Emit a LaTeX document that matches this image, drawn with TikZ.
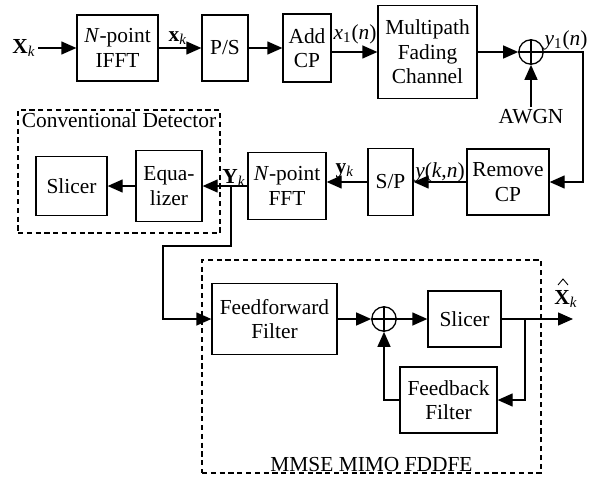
\documentclass[tikz,border=0pt]{standalone}
\usepackage{fontspec}
\setmainfont{Liberation Serif}
\usetikzlibrary{arrows.meta,positioning,calc}

\begin{document}
\begin{tikzpicture}[
  x=0.5pt,y=-0.5pt,
  line width=0.65pt,
  font=\fontsize{10.7}{12.3}\selectfont,
  >={Triangle[length=7.5pt,width=6.5pt]},
  block/.style={draw,rectangle,align=center,inner sep=1pt},
  adder/.style={draw,circle,minimum size=12.2pt,inner sep=0pt},
  group/.style={draw,dash pattern=on 2.6pt off 1.8pt,inner sep=0pt},
  lbl/.style={inner sep=1pt}
]
\useasboundingbox (0,0) rectangle (592,476);

\def\ytop{48}
\def\ychan{52}
\def\yrx{182}
\def\ydet{186}
\def\yeq{319}

% transmitter and channel
\node[lbl] (xk) at (24,\ytop) {\textbf{X}\textsubscript{\textit{k}}};
\node[block,minimum width=40.5pt,minimum height=33pt] (ifft) at (117.5,\ytop) {\textit{N}-point\\IFFT};
\node[block,minimum width=23pt,minimum height=33pt] (ps) at (225,\ytop) {P/S};
\node[block,minimum width=24pt,minimum height=34pt] (addcp) at (307,\ytop) {Add\\CP};
\node[block,minimum width=49.5pt,minimum height=46.5pt] (chan) at (427.5,\ychan) {Multipath\\Fading\\Channel};
\node[adder] (sum1) at (531,\ychan) {};
\node[lbl] (awgn) at (531,117) {AWGN};
\coordinate (c1) at (583,\ychan);

% receiver
\node[block,minimum width=41pt,minimum height=33pt] (rmcp) at (508,\yrx) {Remove\\CP};
\node[block,minimum width=22.5pt,minimum height=33.5pt] (sp) at (390.5,\yrx) {S/P};
\node[block,minimum width=39pt,minimum height=33.5pt] (fft) at (287,\ydet) {\textit{N}-point\\FFT};
\node[block,minimum width=33pt,minimum height=35.5pt] (eq) at (169,\ydet) {Equa-\\lizer};
\node[block,minimum width=35.5pt,minimum height=29.5pt] (slc1) at (71.5,\ydet) {Slicer};
\node[group,minimum width=101pt,minimum height=61.5pt] (conv) at (119,171.5) {};
\node[lbl,below=0.5pt of conv.north] (convlbl) {Conventional Detector};

% MMSE MIMO FDDFE
\node[block,minimum width=62.5pt,minimum height=35.5pt] (ff) at (274.5,\yeq) {Feedforward\\Filter};
\node[adder] (sum2) at (384,\yeq) {};
\node[block,minimum width=36.5pt,minimum height=28pt] (slc2) at (464.5,\yeq) {Slicer};
\node[block,minimum width=48.5pt,minimum height=33pt] (fb) at (448.5,400) {Feedback\\Filter};
\node[group,minimum width=169.5pt,minimum height=106.5pt] (mmse) at (371.5,366.5) {};
\node[lbl,anchor=base,yshift=1pt] (mmselbl) at (mmse.south) {MMSE MIMO FDDFE};
\coordinate (xout) at (573,\yeq);
\coordinate (j2) at (525,\yeq);
\node[lbl] (xhat) at (566,299) {\textbf{X}\textsubscript{\textit{k}}};
\draw[line width=0.45pt] (558,285) -- (563,279) -- (568,285); % hat

% branch to the FDDFE
\coordinate (j1) at (231,\ydet);
\coordinate (b1) at (163,246);

% signal labels
\node[lbl] (xklbl) at (178,38) {\textbf{x}\textsubscript{\textit{k}}};
\node[lbl] (x1lbl) at (355,34) {\textit{x}\textsubscript{1}(\textit{n})};
\node[lbl] (y1lbl) at (566,40) {\textit{y}\textsubscript{1}(\textit{n})};
\node[lbl] (yknlbl) at (440,172) {\textit{y}(\textit{k},\textit{n})};
\node[lbl] (yklbl) at (345,171) {\textbf{y}\textsubscript{\textit{k}}};
\node[lbl] (Yklbl) at (234,178) {\textbf{Y}\textsubscript{\textit{k}}};

% connections
\draw[->] (xk) -- (ifft);
\draw[->] (ifft) -- (ps);
\draw[->] (ps) -- (addcp);
\draw[->] (addcp.east|-chan.west) -- (chan.west);
\draw[->] (chan) -- (sum1);
\draw (sum1.north) -- (sum1.south) (sum1.west) -- (sum1.east);
\draw[->] (awgn) -- (sum1);
\draw[->] (sum1) -- (c1) |- (rmcp);
\draw[->] (rmcp) -- (sp);
\draw[->] (sp.west) -- (sp.west-|fft.east);
\draw[->] (fft) -- (eq);
\draw[->] (eq) -- (slc1);
\draw[->] (j1) |- (b1) |- (ff.west);
\draw[->] (ff) -- (sum2);
\draw (sum2.north) -- (sum2.south) (sum2.west) -- (sum2.east);
\draw[->] (sum2) -- (slc2);
\draw[->] (slc2) -- (xout);
\draw[->] (j2) |- (fb.east);
\draw[->] (fb.west) -| (sum2.south);

\end{tikzpicture}
\end{document}
